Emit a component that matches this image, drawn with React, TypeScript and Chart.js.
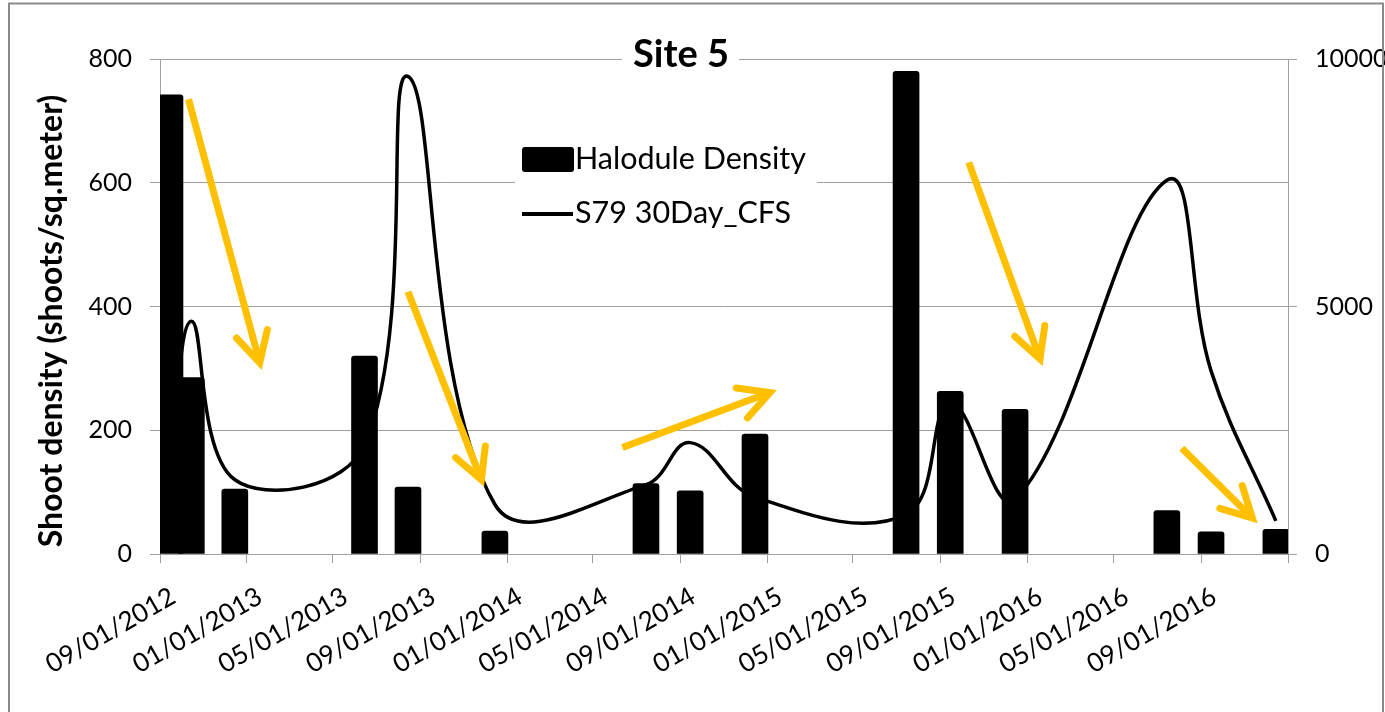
import { useEffect, useRef } from 'react';
import { Chart, registerables } from 'chart.js';

Chart.register(...registerables);

// Sampling dates (MM/DD/YYYY) shared by the density bars and the flow line
const sampleDates = [
  '09/15/2012', '10/15/2012', '12/15/2012', '06/15/2013', '08/15/2013',
  '12/15/2013', '07/15/2014', '09/15/2014', '12/15/2014', '07/15/2015',
  '09/15/2015', '12/15/2015', '07/15/2016', '09/15/2016', '12/15/2016',
];

// Halodule shoot density (shoots / sq. meter)
const haloduleDensity = [742, 285, 105, 320, 108, 37, 114, 102, 194, 780, 263, 234, 70, 36, 40];

// S79 30-day average discharge (CFS)
const s79Flow = [1400, 4700, 1500, 2200, 9650, 1000, 1400, 2250, 1150, 800, 3050, 1100, 7550, 3700, 670];

// Date axis tick labels, four months apart, and the axis end
const xTickLabels = [
  '09/01/2012', '01/01/2013', '05/01/2013', '09/01/2013', '01/01/2014',
  '05/01/2014', '09/01/2014', '01/01/2015', '05/01/2015', '09/01/2015',
  '01/01/2016', '05/01/2016', '09/01/2016',
];
const xAxisEnd = '01/01/2017';

// Trend arrows, in date / density units
const arrowStartDates = ['10/11/2012', '08/15/2013', '06/12/2014', '10/11/2015', '08/05/2016'];
const arrowStartValues = [735, 424, 172, 633, 171];
const arrowEndDates = ['01/19/2013', '11/26/2013', '01/05/2015', '01/19/2016', '11/12/2016'];
const arrowEndValues = [309, 120, 261, 315, 58];

const FONT = 'Lato, "Open Sans", sans-serif';
const GRID = '#A0A0A0';

const toDay = (s: string) => {
  const [m, d, y] = s.split('/').map(Number);
  return Date.UTC(y, m - 1, d) / 86400000;
};

const overlay = {
  id: 'siteOverlay',
  afterDatasetsDraw(chart: any) {
    const { ctx, scales } = chart;
    const x = scales.x;
    const y = scales.y;
    ctx.save();
    ctx.strokeStyle = '#FFC000';
    ctx.lineWidth = 7;
    for (let i = 0; i < arrowStartDates.length; i++) {
      const x0 = x.getPixelForValue(toDay(arrowStartDates[i]));
      const y0 = y.getPixelForValue(arrowStartValues[i]);
      const x1 = x.getPixelForValue(toDay(arrowEndDates[i]));
      const y1 = y.getPixelForValue(arrowEndValues[i]);
      const ang = Math.atan2(y1 - y0, x1 - x0);
      ctx.lineCap = 'butt';
      ctx.beginPath();
      ctx.moveTo(x0, y0);
      ctx.lineTo(x1 - Math.cos(ang) * 3, y1 - Math.sin(ang) * 3);
      ctx.stroke();
      const head = 34;
      const spread = (28 * Math.PI) / 180;
      ctx.lineCap = 'round';
      ctx.lineJoin = 'miter';
      ctx.beginPath();
      ctx.moveTo(x1 - head * Math.cos(ang - spread), y1 - head * Math.sin(ang - spread));
      ctx.lineTo(x1, y1);
      ctx.lineTo(x1 - head * Math.cos(ang + spread), y1 - head * Math.sin(ang + spread));
      ctx.stroke();
    }
    ctx.restore();
  },
  afterDraw(chart: any) {
    const { ctx } = chart;
    ctx.save();

    // Title sitting on the top gridline
    ctx.fillStyle = '#fff';
    ctx.fillRect(622, 36, 117, 40);
    ctx.fillStyle = '#000';
    ctx.font = `bold 38px ${FONT}`;
    ctx.textAlign = 'center';
    ctx.textBaseline = 'alphabetic';
    ctx.fillText('Site 5', 681, 67);

    // Legend box
    ctx.fillStyle = '#fff';
    ctx.fillRect(515, 135, 302, 100);
    ctx.fillStyle = '#000';
    ctx.beginPath();
    ctx.roundRect(522, 147, 52, 25, 3);
    ctx.fill();
    ctx.strokeStyle = '#000';
    ctx.lineWidth = 4;
    ctx.beginPath();
    ctx.moveTo(522, 214);
    ctx.lineTo(573, 214);
    ctx.stroke();
    ctx.font = `30.5px ${FONT}`;
    ctx.textAlign = 'left';
    ctx.fillText('Halodule Density', 575, 169);
    ctx.fillText('S79 30Day_CFS', 575, 223);

    // Left axis title
    ctx.save();
    ctx.translate(62, 321);
    ctx.rotate(-Math.PI / 2);
    ctx.font = `bold 32px ${FONT}`;
    ctx.textAlign = 'center';
    ctx.fillText('Shoot density (shoots/sq.meter)', 0, 0);
    ctx.restore();

    // Chart frame
    ctx.strokeStyle = '#8A8A8A';
    ctx.lineWidth = 2;
    ctx.strokeRect(9, 3.5, 1374, 730);
    ctx.restore();
  },
};

export default function App() {
  const canvasRef = useRef<HTMLCanvasElement | null>(null);

  useEffect(() => {
    let chart: Chart | null = null;
    let cancelled = false;
    const tickFont = { family: FONT, size: 25 };

    const build = () => {
      if (cancelled || !canvasRef.current) return;
      chart = new Chart(canvasRef.current, {
        type: 'bar',
        data: {
          datasets: [
            {
              type: 'bar',
              label: 'Halodule Density',
              data: sampleDates.map((d, i) => ({ x: toDay(d), y: haloduleDensity[i] })),
              backgroundColor: '#000',
              barThickness: 26,
              borderRadius: 3,
              borderSkipped: 'bottom',
              xAxisID: 'x',
              yAxisID: 'y',
              order: 1,
            },
            {
              type: 'line',
              label: 'S79 30Day_CFS',
              data: sampleDates.map((d, i) => ({ x: toDay(d), y: s79Flow[i] })),
              borderColor: '#000',
              borderWidth: 3.5,
              pointRadius: 0,
              tension: 0.4,
              fill: false,
              xAxisID: 'x',
              yAxisID: 'y1',
              order: 2,
            },
          ],
        } as any,
        options: {
          responsive: false,
          animation: false,
          devicePixelRatio: 1,
          layout: { padding: { top: 59, left: 0, right: 0, bottom: 0 } },
          plugins: {
            legend: { display: false },
            title: { display: false },
            tooltip: { enabled: false },
          },
          scales: {
            x: {
              type: 'linear',
              min: toDay(xTickLabels[0]),
              max: toDay(xAxisEnd),
              offset: false,
              grid: { offset: false, drawOnChartArea: false, drawTicks: true, tickLength: 9, color: GRID },
              border: { color: GRID, width: 1 },
              afterBuildTicks: (s: any) => {
                s.ticks = [...xTickLabels, xAxisEnd].map((d) => ({ value: toDay(d) }));
              },
              afterFit: (s: any) => {
                s.height = 158;
              },
              ticks: {
                autoSkip: false,
                minRotation: 30,
                maxRotation: 30,
                padding: 18,
                labelOffset: 13,
                color: '#000',
                font: { family: FONT, size: 26 },
                callback: (_v: any, i: number) => xTickLabels[i] ?? '',
              },
            },
            y: {
              position: 'left',
              min: 0,
              max: 800,
              grid: { color: GRID, tickLength: 10 },
              border: { color: GRID, width: 1 },
              afterFit: (s: any) => {
                s.width = 160;
              },
              ticks: {
                stepSize: 200,
                padding: 18,
                color: '#000',
                font: tickFont,
                callback: (v: any) => String(v),
              },
            },
            y1: {
              position: 'right',
              min: 0,
              max: 10000,
              grid: { drawOnChartArea: false, color: GRID, tickLength: 9 },
              border: { color: GRID, width: 1 },
              afterFit: (s: any) => {
                s.width = 97;
              },
              ticks: {
                stepSize: 5000,
                padding: 18,
                color: '#000',
                font: tickFont,
                callback: (v: any) => String(v),
              },
            },
          },
        } as any,
        plugins: [overlay],
      });
    };

    const fonts = (document as any).fonts;
    if (fonts && fonts.load) {
      Promise.all([fonts.load(`25px Lato`), fonts.load(`bold 32px Lato`)])
        .catch(() => undefined)
        .then(build);
    } else {
      build();
    }

    return () => {
      cancelled = true;
      if (chart) chart.destroy();
    };
  }, []);

  return (
    <div style={{ position: 'fixed', left: 0, top: 0, width: 1385, height: 712, background: '#fff' }}>
      <canvas ref={canvasRef} width={1385} height={712} style={{ width: 1385, height: 712, display: 'block' }} />
    </div>
  );
}
